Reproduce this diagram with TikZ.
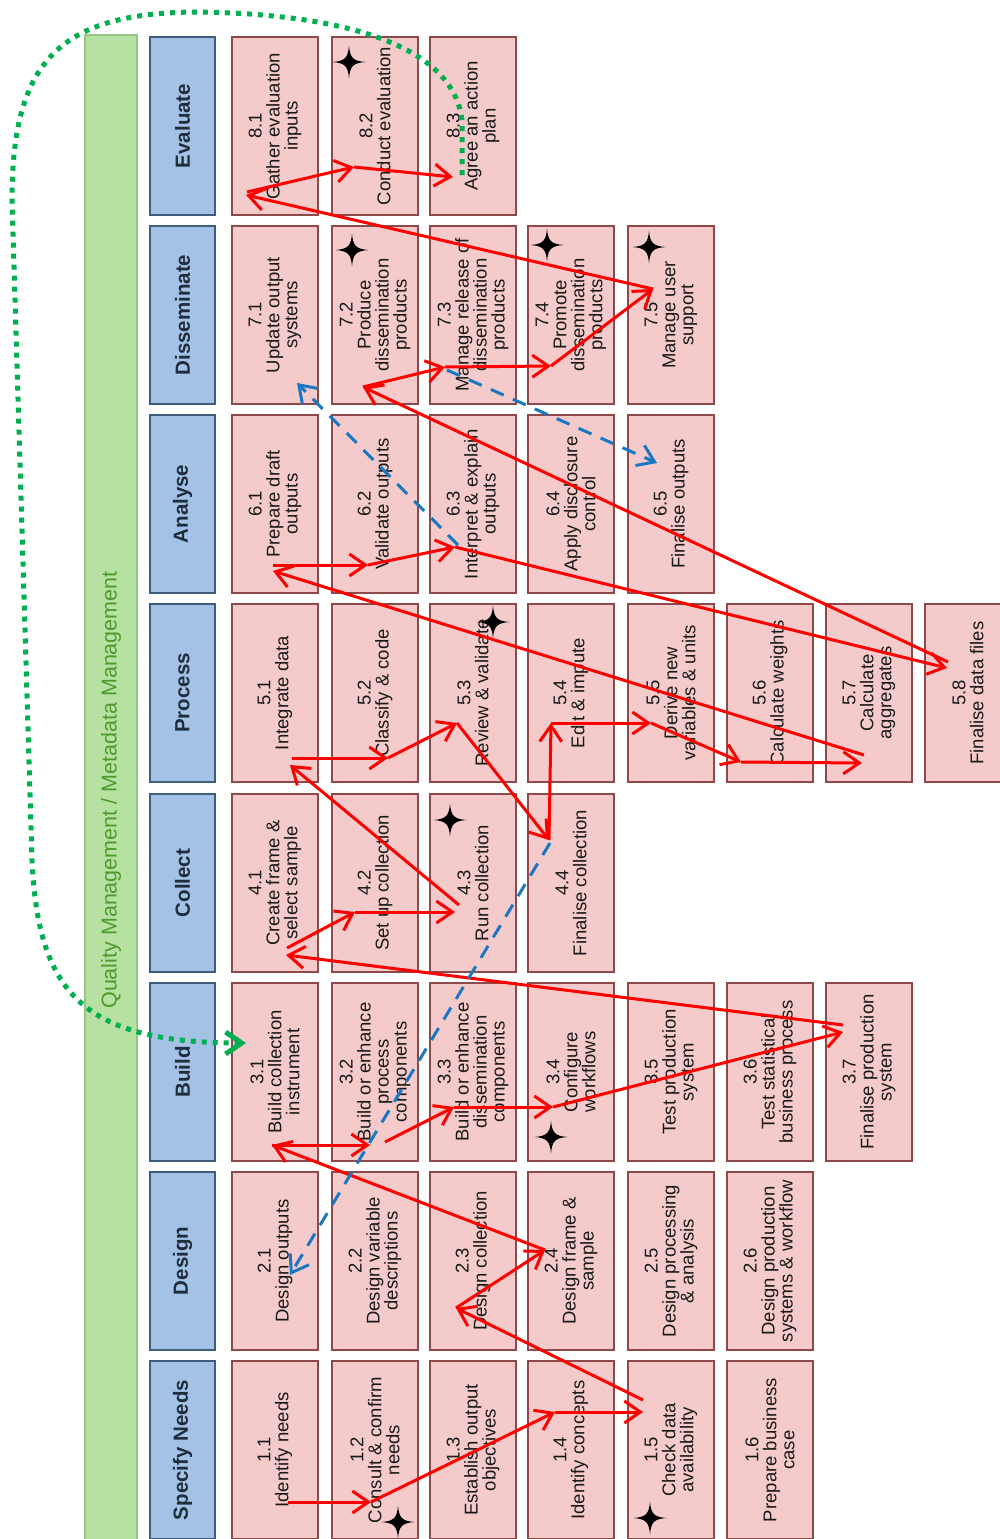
\documentclass[tikz,border=0pt]{standalone}
\usepackage{fontspec}
\setmainfont{Liberation Sans}
\usetikzlibrary{arrows.meta}
\definecolor{subfill}{HTML}{F4CACA}
\definecolor{subline}{HTML}{8E4A4A}
\definecolor{phasefill}{HTML}{A4C2E6}
\definecolor{phaseline}{HTML}{3E5C7E}
\definecolor{phasetext}{HTML}{1F2D3D}
\definecolor{qmfill}{HTML}{B7E1A1}
\definecolor{qmline}{HTML}{97C684}
\definecolor{qmtext}{HTML}{4F9A2C}
\definecolor{dashblue}{HTML}{1A78C2}
\definecolor{dotgreen}{HTML}{00B050}
\tikzset{pics/spark/.style={code={\fill[black] (0,-16.5) .. controls (1,-4) and (4,-1) .. (16.5,0) .. controls (4,1) and (1,4) .. (0,16.5) .. controls (-1,4) and (-4,1) .. (-16.5,0) .. controls (-4,-1) and (-1,-4) .. (0,-16.5) -- cycle;}}}
\begin{document}
\begin{tikzpicture}[x=1pt,y=-1pt,
  qm/.style={draw=qmline, fill=qmfill, line width=1.5pt, rotate=90, minimum width=1510pt, minimum height=52pt, text=qmtext, font=\fontsize{21.5}{24}\selectfont},
  phase/.style={draw=phaseline, fill=phasefill, line width=1.5pt, rotate=90, minimum width=178pt, minimum height=65pt, text=phasetext, font=\bfseries\fontsize{20.5}{24}\selectfont},
  sub/.style={draw=subline, fill=subfill, line width=1.2pt, rotate=90, minimum width=178pt, minimum height=86pt, align=center, inner sep=1pt, text=black!90, font=\fontsize{18.5}{18}\selectfont},
  flow/.style={red, line width=3pt, -{Straight Barb[length=16pt,width=22pt]}},
  bluelink/.style={dashblue, line width=3pt, dash pattern=on 14pt off 10pt, -{Straight Barb[length=16pt,width=22pt]}},
  cycleback/.style={dotgreen, line width=5pt, dash pattern=on 5pt off 6pt, -{Straight Barb[length=16pt,width=22pt]}}]
\useasboundingbox (0,0) rectangle (1000,1539);
\clip (0,0) rectangle (1000,1539);
\node[qm] (qm) at (111,790) {Quality Management / Metadata Management};
\node[phase] (ph8) at (182.5,126) {Evaluate};
\node[phase] (ph7) at (182.5,315) {Disseminate};
\node[phase] (ph6) at (182.5,504) {Analyse};
\node[phase] (ph5) at (182.5,693) {Process};
\node[phase] (ph4) at (182.5,883) {Collect};
\node[phase] (ph3) at (182.5,1072) {Build};
\node[phase] (ph2) at (182.5,1261) {Design};
\node[phase] (ph1) at (182.5,1450) {Specify Needs};
\node[sub] (b81) at (275,126) {8.1\\Gather evaluation\\inputs};
\node[sub] (b82) at (375,126) {8.2\\Conduct evaluation};
\node[sub] (b83) at (473,126) {8.3\\Agree an action\\plan};
\node[sub] (b71) at (275,315) {7.1\\Update output\\systems};
\node[sub] (b72) at (375,315) {7.2\\Produce\\dissemination\\products};
\node[sub] (b73) at (473,315) {7.3\\Manage release of\\dissemination\\products};
\node[sub] (b74) at (571,315) {7.4\\Promote\\dissemination\\products};
\node[sub] (b75) at (671,315) {7.5\\Manage user\\support};
\node[sub] (b61) at (275,504) {6.1\\Prepare draft\\outputs};
\node[sub] (b62) at (375,504) {6.2\\Validate outputs};
\node[sub] (b63) at (473,504) {6.3\\Interpret \& explain\\outputs};
\node[sub] (b64) at (571,504) {6.4\\Apply disclosure\\control};
\node[sub] (b65) at (671,504) {6.5\\Finalise outputs};
\node[sub] (b51) at (275,693) {5.1\\Integrate data};
\node[sub] (b52) at (375,693) {5.2\\Classify \& code};
\node[sub] (b53) at (473,693) {5.3\\Review \& validate};
\node[sub] (b54) at (571,693) {5.4\\Edit \& impute};
\node[sub] (b55) at (671,693) {5.5\\Derive new\\variables \& units};
\node[sub] (b56) at (770,693) {5.6\\Calculate weights};
\node[sub] (b57) at (869,693) {5.7\\Calculate\\aggregates};
\node[sub] (b58) at (968,693) {5.8\\Finalise data files};
\node[sub] (b41) at (275,883) {4.1\\Create frame \&\\select sample};
\node[sub] (b42) at (375,883) {4.2\\Set up collection};
\node[sub] (b43) at (473,883) {4.3\\Run collection};
\node[sub] (b44) at (571,883) {4.4\\Finalise collection};
\node[sub] (b31) at (275,1072) {3.1\\Build collection\\instrument};
\node[sub] (b32) at (375,1072) {3.2\\Build or enhance\\process\\components};
\node[sub] (b33) at (473,1072) {3.3\\Build or enhance\\dissemination\\components};
\node[sub] (b34) at (571,1072) {3.4\\Configure\\workflows};
\node[sub] (b35) at (671,1072) {3.5\\Test production\\system};
\node[sub] (b36) at (770,1072) {3.6\\Test statistical\\business process};
\node[sub] (b37) at (869,1072) {3.7\\Finalise production\\system};
\node[sub] (b21) at (275,1261) {2.1\\Design outputs};
\node[sub] (b22) at (375,1261) {2.2\\Design variable\\descriptions};
\node[sub] (b23) at (473,1261) {2.3\\Design collection};
\node[sub] (b24) at (571,1261) {2.4\\Design frame \&\\sample};
\node[sub] (b25) at (671,1261) {2.5\\Design processing\\\& analysis};
\node[sub] (b26) at (770,1261) {2.6\\Design production\\systems \& workflow};
\node[sub] (b11) at (275,1450) {1.1\\Identify needs};
\node[sub] (b12) at (375,1450) {1.2\\Consult \& confirm\\needs};
\node[sub] (b13) at (473,1450) {1.3\\Establish output\\objectives};
\node[sub] (b14) at (571,1450) {1.4\\Identify concepts};
\node[sub] (b15) at (671,1450) {1.5\\Check data\\availability};
\node[sub] (b16) at (770,1450) {1.6\\Prepare business\\case};
\pic (s82) at (349,62) {spark};
\pic (s72) at (352,250) {spark};
\pic (s74) at (547,245) {spark};
\pic (s75) at (649,247) {spark};
\pic (s53) at (493,622) {spark};
\pic (s43) at (450,820) {spark};
\pic (s34) at (551,1137) {spark};
\pic (s12) at (398,1522) {spark};
\pic (s15) at (650,1518) {spark};
\coordinate (a11) at (288,1502);
\coordinate (a12) at (371,1502);
\coordinate (a14) at (555,1412);
\coordinate (a15) at (643,1412);
\coordinate (a15o) at (643,1400);
\coordinate (a23) at (456,1308);
\coordinate (a24) at (545,1250);
\coordinate (a31) at (272,1145);
\coordinate (a32) at (370,1145);
\coordinate (a32o) at (385,1142);
\coordinate (a33) at (454,1107);
\coordinate (a34) at (553,1107);
\coordinate (a37) at (843,1032);
\coordinate (a37o) at (843,1025);
\coordinate (a41) at (286,955);
\coordinate (a41o) at (287,948);
\coordinate (a42) at (355,912);
\coordinate (a43) at (455,912);
\coordinate (a43o) at (459,905);
\coordinate (a51) at (290,765);
\coordinate (a51o) at (292,758);
\coordinate (a52) at (388,758);
\coordinate (a53) at (457,723);
\coordinate (a44) at (549,840);
\coordinate (a54) at (551,723);
\coordinate (a55) at (651,723);
\coordinate (a56) at (741,762);
\coordinate (a57) at (862,763);
\coordinate (a57o) at (864,755);
\coordinate (a61) at (273,571);
\coordinate (a61o) at (273,565);
\coordinate (a62) at (368,565);
\coordinate (a63) at (455,547);
\coordinate (a58) at (947,668);
\coordinate (a58o) at (948,662);
\coordinate (a72) at (363,387);
\coordinate (a73) at (445,367);
\coordinate (a74) at (551,366);
\coordinate (a75) at (653,289);
\coordinate (a81) at (246,195);
\coordinate (a81o) at (247,192);
\coordinate (a82) at (354,167);
\coordinate (a83) at (453,177);
\draw[flow] (a11) -- (a12);
\draw[flow] (a12) -- (a14);
\draw[flow] (a14) -- (a15);
\draw[flow] (a15o) -- (a23);
\draw[flow] (a23) -- (a24);
\draw[flow] (a24) -- (a31);
\draw[flow] (a31) -- (a32);
\draw[flow] (a32o) -- (a33);
\draw[flow] (a33) -- (a34);
\draw[flow] (a34) -- (a37);
\draw[flow] (a37o) -- (a41);
\draw[flow] (a41o) -- (a42);
\draw[flow] (a42) -- (a43);
\draw[flow] (a43o) -- (a51);
\draw[flow] (a51o) -- (a52);
\draw[flow] (a52) -- (a53);
\draw[flow] (a53) -- (a44);
\draw[flow] (a44) -- (a54);
\draw[flow] (a54) -- (a55);
\draw[flow] (a55) -- (a56);
\draw[flow] (a56) -- (a57);
\draw[flow] (a57o) -- (a61);
\draw[flow] (a61o) -- (a62);
\draw[flow] (a62) -- (a63);
\draw[flow] (a63) -- (a58);
\draw[flow] (a58o) -- (a72);
\draw[flow] (a72) -- (a73);
\draw[flow] (a73) -- (a74);
\draw[flow] (a74) -- (a75);
\draw[flow] (a75) -- (a81);
\draw[flow] (a81o) -- (a82);
\draw[flow] (a82) -- (a83);
\coordinate (d44) at (550,843);
\coordinate (d21) at (290,1275);
\coordinate (d63) at (458,545);
\coordinate (d71) at (297,383);
\coordinate (d73) at (447,370);
\coordinate (d65) at (657,463);
\draw[bluelink] (d44) -- (d21);
\draw[bluelink] (d63) -- (d71);
\draw[bluelink] (d73) -- (d65);
\coordinate (g83) at (462,175);
\coordinate (g31) at (246,1043);
\draw[cycleback] (g83) -- (462,120) .. controls (455,60) and (380,15) .. (200,12) .. controls (60,12) and (12,60) .. (12,200) -- (32,860) .. controls (38,990) and (80,1043) .. (g31);
\end{tikzpicture}
\end{document}
